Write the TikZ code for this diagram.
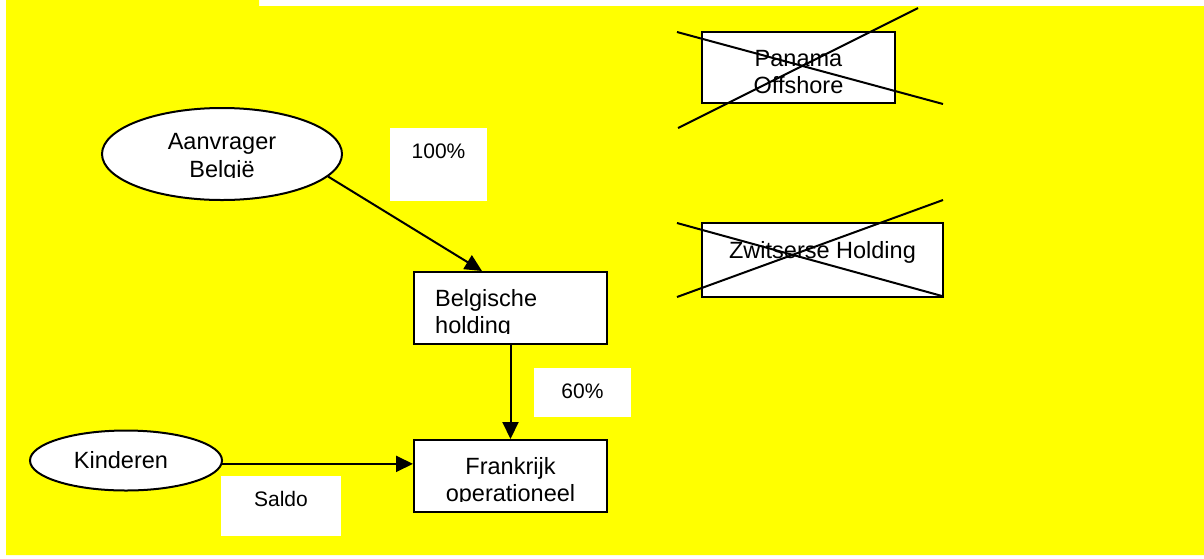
\documentclass[tikz,border=0pt]{standalone}
\usepackage{fontspec}
\setmainfont{Liberation Sans}
\usetikzlibrary{shapes.geometric,arrows.meta,calc}

\definecolor{sheet}{RGB}{255,255,0}

\tikzset{
  frame/.style={draw=black, line width=2pt, fill=white, rectangle, inner sep=0pt},
  oval/.style={draw=black, line width=2pt, fill=white, ellipse, inner sep=0pt},
  tag/.style={fill=white, rectangle, inner sep=0pt},
  txt/.style={inner sep=0pt, anchor=base, font=\fontsize{23.5}{27}\selectfont},
  txtl/.style={txt, anchor=base west},
  small/.style={inner sep=0pt, anchor=base, font=\fontsize{21}{24}\selectfont},
  link/.style={draw=black, line width=2pt, -{Triangle[length=17pt,width=16pt]}},
  strike/.style={draw=black, line width=2pt}
}

\begin{document}
\begin{tikzpicture}[x=1pt,y=-1pt]
\useasboundingbox (0,0) rectangle (1204,558);

% yellow sheet
\fill[sheet] (6,0) -- (259,0) -- (259,6) -- (1204,6) -- (1204,555) -- (6,555) -- cycle;

% percentage / share labels
\node[tag, minimum width=97, minimum height=73] (t100) at (438.5,164.5) {};
\node[tag, minimum width=97, minimum height=49] (t60) at (582.5,392.5) {};
\node[tag, minimum width=120, minimum height=60] (tsal) at (281,506) {};
\node[small] (s100) at (438.5,158) {100\%};
\node[small] (s60) at (582.5,398) {60\%};
\node[small] (ssal) at (281,506) {Saldo};

% entities
\node[oval, minimum width=240, minimum height=92] (aan) at (222,154) {};
\node[oval, minimum width=192, minimum height=60] (kin) at (126,460.5) {};
\node[frame, minimum width=193, minimum height=72] (bel) at (510.5,308) {};
\node[frame, minimum width=193, minimum height=72] (fra) at (510.5,476) {};
\node[frame, minimum width=193, minimum height=71] (pan) at (798.5,67.5) {};
\node[frame, minimum width=241, minimum height=74] (zwi) at (822.5,260) {};

% entity texts (second lines cut off at the baseline)
\node[txt] (aan1) at (222,149) {Aanvrager};
\begin{scope}
  \clip (150,152) rectangle (300,177);
  \node[txt] (aan2) at (222,177.5) {België};
\end{scope}
\node[txt] (kin1) at (121,468) {Kinderen};
\node[txtl] (bel1) at (435,306) {Belgische};
\begin{scope}
  \clip (420,309) rectangle (600,333);
  \node[txtl] (bel2) at (435,333.5) {holding};
\end{scope}
\node[txt] (fra1) at (510.5,474) {Frankrijk};
\begin{scope}
  \clip (420,477) rectangle (600,501);
  \node[txt] (fra2) at (510.5,501.5) {operationeel};
\end{scope}
\node[txt] (pan1) at (798.5,66) {Panama};
\node[txt] (pan2) at (798.5,93) {Offshore};
\node[txt] (zwi1) at (822.5,258) {Zwitserse Holding};

% ownership links
\draw[link] (aan.-12) -- ($(bel.north west)+(69,0)$);
\draw[link] (bel.south) -- (fra.north);
\draw[link] (kin.-2.5) -- (kin.-2.5 -| fra.west);

% struck-out entities
\draw[strike] (677,32) -- (943,104);
\draw[strike] (678,128) -- (918,8);
\draw[strike] (677,223) -- (942,296);
\draw[strike] (677,297) -- (943,200);
\end{tikzpicture}
\end{document}
